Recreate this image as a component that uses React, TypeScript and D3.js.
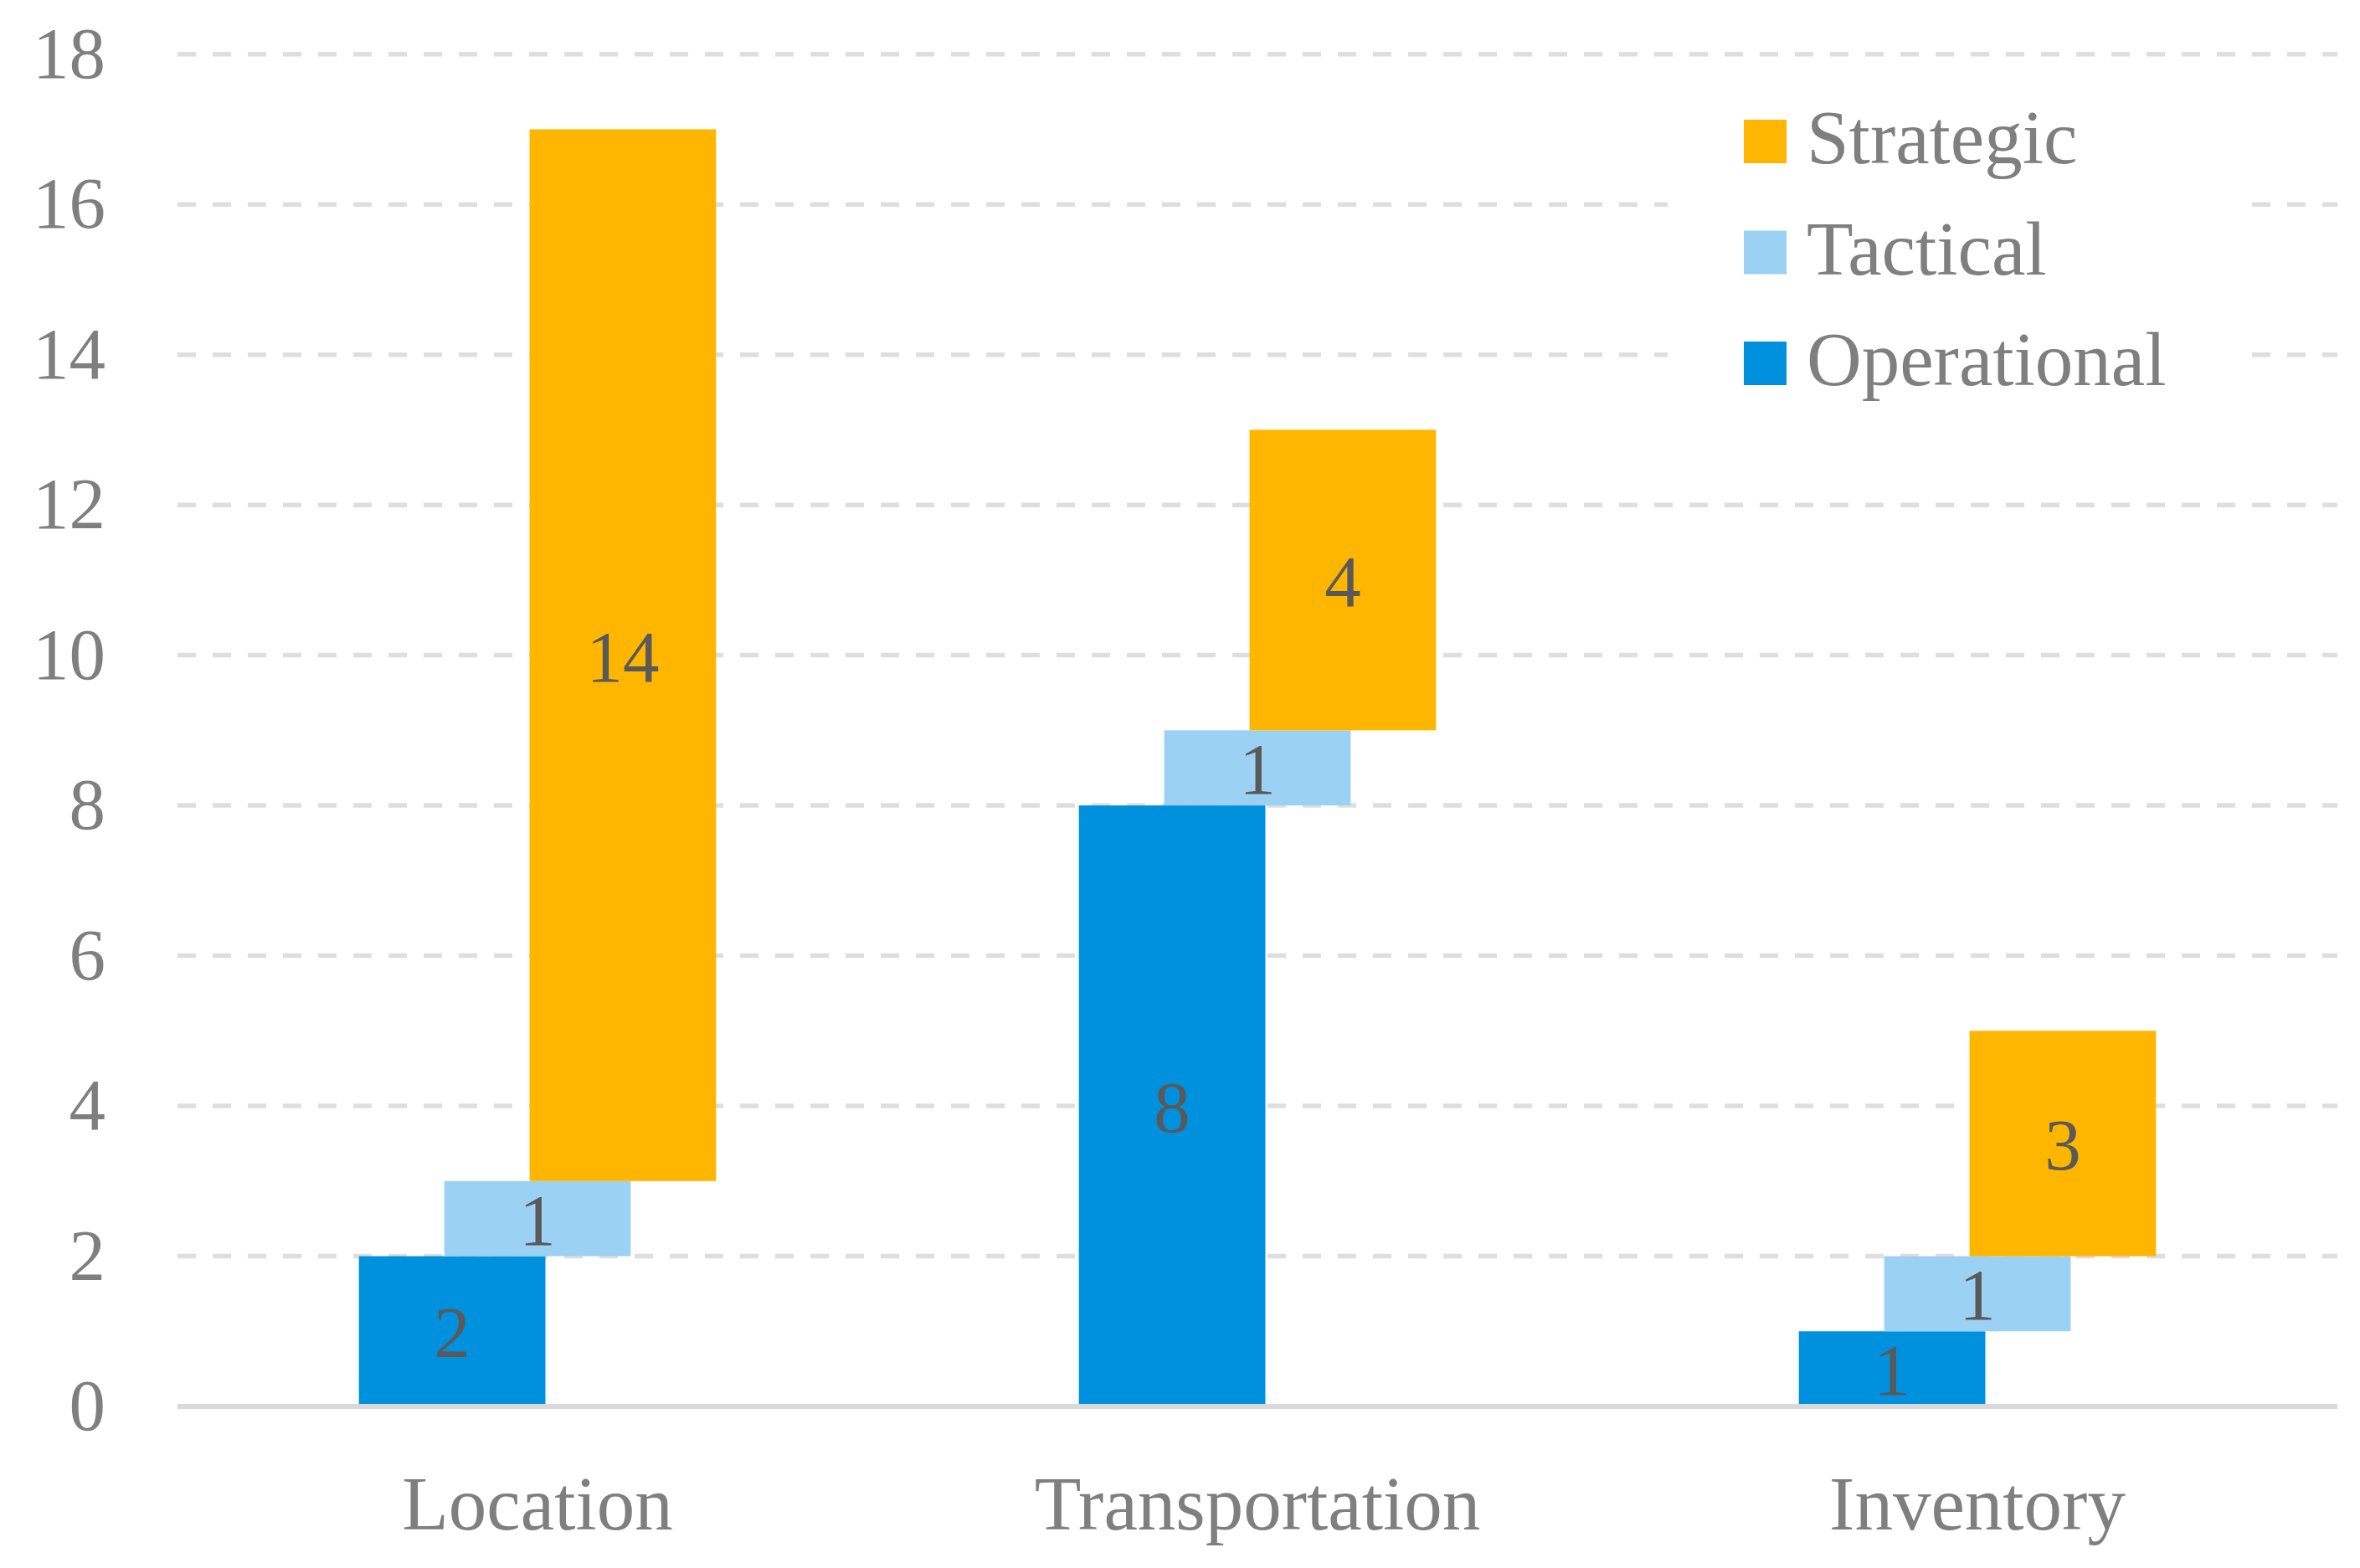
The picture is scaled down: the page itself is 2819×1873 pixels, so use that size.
import { useEffect } from "react";
import * as d3 from "d3";

const categories = ["Location", "Transportation", "Inventory"];
const seriesNames = ["Operational", "Tactical", "Strategic"];
const operational = [2, 8, 1];
const tactical = [1, 1, 1];
const strategic = [14, 4, 3];
const yTicks = [0, 2, 4, 6, 8, 10, 12, 14, 16, 18];

const colors: Record<string, string> = {
  Operational: "#0091de",
  Tactical: "#9bd1f2",
  Strategic: "#ffb600",
};

const W = 2819;
const H = 1873;
const FONT = "'Liberation Serif', 'Times New Roman', serif";

export default function App() {
  useEffect(() => {
    document.body.style.margin = "0";
  }, []);

  const x = d3.scaleBand<string>().domain(categories).range([212, 2792]).padding(0);
  const y = d3.scaleLinear().domain([0, 18]).range([1680, 64.7]);

  const bw = x.bandwidth();
  const barW = bw * 0.259;
  const step = bw * 0.1185;
  const seriesOffset = d3.scalePoint<string>().domain(seriesNames).range([-step, step]);

  const values: Record<string, number[]> = {
    Operational: operational,
    Tactical: tactical,
    Strategic: strategic,
  };

  // floating stack: each series starts where the previous one ended
  const bars = categories.flatMap((cat, i) => {
    let base = 0;
    return seriesNames.map((s) => {
      const v = values[s][i];
      const y0 = base;
      const y1 = base + v;
      base = y1;
      const cx = (x(cat) ?? 0) + bw / 2 + (seriesOffset(s) ?? 0);
      return { cat, s, v, y0, y1, cx };
    });
  });

  const legendItems = ["Strategic", "Tactical", "Operational"];

  return (
    <svg width={W} height={H} style={{ display: "block" }}>
      <rect width={W} height={H} fill="#ffffff" />
      {yTicks.filter((t) => t > 0).map((t) => (
        <line
          key={t}
          x1={212}
          x2={2792}
          y1={y(t)}
          y2={y(t)}
          stroke="#dedede"
          strokeWidth={5.5}
          strokeDasharray="22 20"
        />
      ))}
      {yTicks.map((t) => (
        <text
          key={t}
          x={126}
          y={y(t) + 28}
          textAnchor="end"
          fontFamily={FONT}
          fontSize={87}
          fill="#7f7f7f"
        >
          {t}
        </text>
      ))}
      {bars.map((b) => (
        <rect
          key={b.cat + b.s}
          x={b.cx - barW / 2}
          y={y(b.y1)}
          width={barW}
          height={y(b.y0) - y(b.y1)}
          fill={colors[b.s]}
        />
      ))}
      <line x1={212} x2={2792} y1={y(0)} y2={y(0)} stroke="#d9d9d9" strokeWidth={6} />
      {bars.map((b) => (
        <text
          key={"l" + b.cat + b.s}
          x={b.cx}
          y={y((b.y0 + b.y1) / 2) + 31}
          textAnchor="middle"
          fontFamily={FONT}
          fontSize={87}
          fill="#595959"
        >
          {b.v}
        </text>
      ))}
      {categories.map((c) => (
        <text
          key={c}
          x={(x(c) ?? 0) + bw / 2}
          y={1827}
          textAnchor="middle"
          fontFamily={FONT}
          fontSize={91}
          fill="#7f7f7f"
        >
          {c}
        </text>
      ))}
      <g>
        <rect x={1992} y={100} width={698} height={460} fill="#ffffff" />
        {legendItems.map((s, i) => {
          const cy = 169 + i * 132.5;
          return (
            <g key={s}>
              <rect x={2083} y={cy - 26} width={51} height={52} fill={colors[s]} />
              <text x={2158} y={cy + 26} fontFamily={FONT} fontSize={91} fill="#7f7f7f">
                {s}
              </text>
            </g>
          );
        })}
      </g>
    </svg>
  );
}
